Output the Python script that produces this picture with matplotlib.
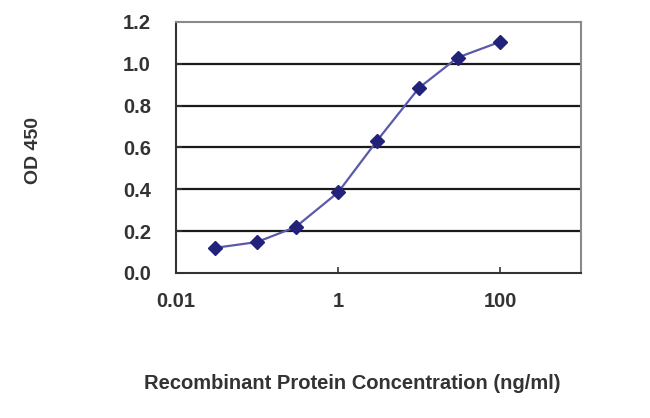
import matplotlib
matplotlib.use('agg')
import matplotlib.pyplot as plt
from matplotlib.ticker import FixedLocator, FixedFormatter, NullLocator

# ELISA standard curve
conc = [0.03, 0.1, 0.3, 1, 3, 10, 30, 100]
od450 = [0.12, 0.148, 0.22, 0.385, 0.63, 0.885, 1.03, 1.105]

x_ticks = [0.01, 1, 100]
x_tick_labels = ['0.01', '1', '100']
y_ticks = [0.0, 0.2, 0.4, 0.6, 0.8, 1.0, 1.2]
y_tick_labels = ['0.0', '0.2', '0.4', '0.6', '0.8', '1.0', '1.2']

plt.rcParams['font.family'] = ['Liberation Sans', 'DejaVu Sans']
plt.rcParams['font.weight'] = 'bold'

fig = plt.figure(figsize=(6.5, 4.18), dpi=100)
ax = fig.add_axes([0.2708, 0.3469, 0.6230, 0.6005])

for y in y_ticks[1:-1]:
    ax.axhline(y, color='#1a1a1a', lw=1.6, zorder=1)

ax.plot(conc, od450, color='#5a5aa8', lw=1.6, zorder=2)
ax.plot(conc, od450, ls='none', marker='D', ms=7, color='#22227a', zorder=3)

ax.set_xscale('log')
ax.set_xlim(0.01, 1000)
ax.set_ylim(0, 1.2)
ax.xaxis.set_major_locator(FixedLocator(x_ticks))
ax.xaxis.set_major_formatter(FixedFormatter(x_tick_labels))
ax.xaxis.set_minor_locator(NullLocator())
ax.yaxis.set_major_locator(FixedLocator(y_ticks))
ax.yaxis.set_major_formatter(FixedFormatter(y_tick_labels))

for s in ax.spines.values():
    s.set_color('#8a8a8a')
    s.set_linewidth(1.5)
ax.spines['left'].set_color('#333333')
ax.spines['bottom'].set_color('#333333')

ax.tick_params(axis='both', direction='in', length=4, width=1.2, color='#333333',
               labelsize=14.5, labelcolor='#333333')
ax.tick_params(axis='x', pad=14)
ax.tick_params(axis='y', pad=18)

fig.text(0.052, 0.639, 'OD 450', rotation=90, ha='center', va='center',
         fontsize=14, color='#333333')
fig.text(0.542, 0.0837, 'Recombinant Protein Concentration (ng/ml)',
         ha='center', va='center', fontsize=14.5, color='#333333')

fig.savefig('out.png', dpi=100)
